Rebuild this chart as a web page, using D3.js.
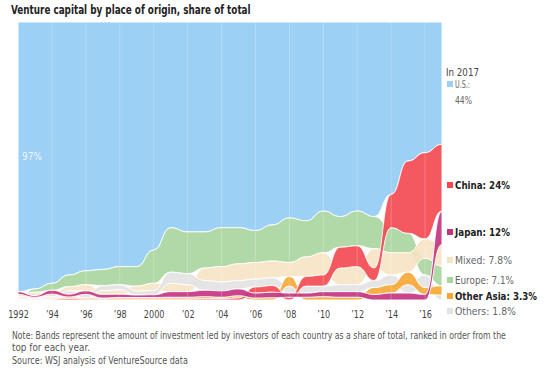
<!DOCTYPE html>
<html><head><meta charset="utf-8">
<script src="https://cdn.jsdelivr.net/npm/d3@7"></script>
<style>
body{margin:0;background:#fff}
svg{display:block}
text{font-family:"DejaVu Sans Condensed","Liberation Sans Narrow","Roboto",sans-serif}
</style></head>
<body><svg id="c" width="550" height="379"></svg>
<script>
const years = [1992,1993,1994,1995,1996,1997,1998,1999,2000,2001,2002,2003,2004,2005,2006,2007,2008,2009,2010,2011,2012,2013,2014,2015,2016,2017];
const us        = [97,96,94,91,89.5,89,88,88,82,74,75.5,75.5,74,74,75,73,70.5,71.5,68,70,68,70,62,50,47,44];
const china     = [0.2,0.2,0.2,0.5,0.3,0.3,0.3,0.3,0.3,0.3,0.3,0.4,0.4,0.7,2.2,2.4,1,3.5,4,7.5,7.5,4.5,12,26,31,24];
const japan     = [1.0,0.6,1.4,1.0,1.3,1.3,1.2,0.9,1.0,2,2,2.3,2.3,2.5,1.8,2,1.5,1.5,1.8,2,2,2,2.5,2.5,2,12];
const mixed     = [0.8,1.2,1.0,1.5,2.2,1.4,1.6,1.8,2.6,3,2.5,4.5,5.5,6,6,6,5,7,8,6,6.5,7,8,7,7,7.8];
const europe    = [0.3,1.2,2.5,4.2,5,5.8,6.5,7,12,16,15,13,14,13,11.5,13,16,13,15,11,12.5,11.5,9,7,6,7.1];
const otherAsia = [0.2,0.3,0.4,0.6,0.5,0.4,0.6,0.6,0.6,0.7,0.7,0.8,0.6,0.8,0.7,0.8,3.5,1,1.2,1,1,2.5,3,4.5,2.5,3.3];
const others    = [0.5,0.5,0.5,1.2,1.2,1.8,1.8,1.4,1.5,4,4,3.5,3.2,3,2.8,2.8,2.5,2.5,2,2.5,2.5,2.5,3.5,3,4.5,1.8];
const tickYears = [1992,1994,1996,1998,2000,2002,2004,2006,2008,2010,2012,2014,2016];
const tickLabels = ["1992","’94","’96","’98","2000","’02","’04","’06","’08","’10","’12","’14","’16"];

const series = [
  {key:"us", name:"U.S.", values:us, color:"#9dd0f5"},
  {key:"europe", name:"Europe", values:europe, color:"#a9d59f"},
  {key:"mixed", name:"Mixed", values:mixed, color:"#f6e3c4"},
  {key:"others", name:"Others", values:others, color:"#e2e2e2"},
  {key:"otherAsia", name:"Other Asia", values:otherAsia, color:"#f6a633"},
  {key:"china", name:"China", values:china, color:"#f4474f"},
  {key:"japan", name:"Japan", values:japan, color:"#c3327f"}
];

const svg = d3.select("#c");
const x = d3.scaleLinear().domain([1992,2017]).range([18,442]);
const y = d3.scaleLinear().domain([0,100]).range([22,300]);

function fit(t, w){
  const n = t.node().getComputedTextLength();
  const s = w / n;
  const tx = +t.attr("x"), ty = +t.attr("y");
  t.attr("x",0).attr("y",0).attr("transform",`translate(${tx},${ty}) scale(${s},1)`);
  return t;
}

// ranked stacking: largest at top each year
const pos = {}; series.forEach(s=>pos[s.key]=[]);
years.forEach((yr,i)=>{
  const sorted = series.slice().sort((a,b)=>b.values[i]-a.values[i]);
  let cum = 0;
  sorted.forEach(s=>{ pos[s.key].push({year:yr, y0:cum, y1:cum+s.values[i]}); cum += s.values[i]; });
});

const area = d3.area().curve(d3.curveBumpX)
  .x(d=>x(d.year)).y0(d=>y(d.y0)).y1(d=>y(d.y1));

const g = svg.append("g");
series.forEach(s=>{
  g.append("path").attr("d", area(pos[s.key]))
    .attr("fill", s.color).attr("fill-opacity", s.key==="us"?1:0.9)
    .attr("stroke","#fff").attr("stroke-width",1).attr("stroke-opacity",0.9);
});

// faint gridlines
svg.append("g").selectAll("line").data(tickYears.slice(1)).join("line")
  .attr("x1",d=>x(d)).attr("x2",d=>x(d)).attr("y1",22).attr("y2",300)
  .attr("stroke","#fff").attr("stroke-opacity",0.22).attr("stroke-width",1);

// x axis
const ax = svg.append("g").attr("transform","translate(0,307)")
  .call(d3.axisBottom(x).tickValues(tickYears).tickSize(0).tickFormat((d,i)=>tickLabels[i]));
ax.select(".domain").remove();
ax.selectAll("text").attr("font-size",11).attr("fill","#444").attr("transform","scale(0.82,1)")
  .style("font-family","\"DejaVu Sans Condensed\",sans-serif");

// title
fit(svg.append("text").attr("x",11).attr("y",14).attr("font-size",12.5).attr("font-weight","bold")
  .attr("fill","#222").text("Venture capital by place of origin, share of total"), 240);

// 97% label
svg.append("text").attr("x",22).attr("y",160).attr("font-size",10).attr("fill","#eef7fd")
  .text("97%");

// legend
fit(svg.append("text").attr("x",446).attr("y",76).attr("font-size",11).attr("fill","#444").text("In 2017"), 33);
const leg = [
  {key:"us", color:"#9dd0f5", lines:["U.S.:","44%"], widths:[15,17], y:88, bold:false},
  {key:"china", color:"#f4474f", lines:["China: 24%"], widths:[55], y:189, bold:true},
  {key:"japan", color:"#c3327f", lines:["Japan: 12%"], widths:[55], y:236, bold:true},
  {key:"mixed", color:"#f6e3c4", lines:["Mixed: 7.8%"], widths:[57], y:264, bold:false},
  {key:"europe", color:"#a9d59f", lines:["Europe: 7.1%"], widths:[59], y:284, bold:false},
  {key:"otherAsia", color:"#f6a633", lines:["Other Asia: 3.3%"], widths:[82], y:300, bold:true},
  {key:"others", color:"#e2e2e2", lines:["Others: 1.8%"], widths:[61], y:315, bold:false}
];
leg.forEach(l=>{
  svg.append("rect").attr("x",447).attr("y",l.y-7).attr("width",6).attr("height",6).attr("fill",l.color);
  l.lines.forEach((t,j)=>{
    fit(svg.append("text").attr("x",455).attr("y",l.y+j*16).attr("font-size",11)
      .attr("font-weight",l.bold?"bold":"normal").attr("fill",l.bold?"#222":"#666").text(t), l.widths[j]);
  });
});

// notes
const note1 = "Note: Bands represent the amount of investment led by investors of each country as a share of total, ranked in order from the";
fit(svg.append("text").attr("x",12).attr("y",339).attr("font-size",10).attr("fill","#555").text(note1), 494);
fit(svg.append("text").attr("x",12).attr("y",351).attr("font-size",10).attr("fill","#555").text("top for each year."), 78);
fit(svg.append("text").attr("x",12).attr("y",364).attr("font-size",10).attr("fill","#555").text("Source: WSJ analysis of VentureSource data"), 176);
</script></body></html>
